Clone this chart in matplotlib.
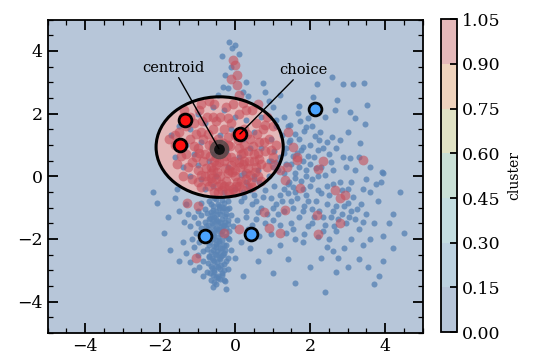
import numpy as np
import matplotlib
matplotlib.use("Agg")
import matplotlib.pyplot as plt
from matplotlib.patches import Ellipse
from matplotlib.colors import ListedColormap, Normalize
from matplotlib.cm import ScalarMappable
from matplotlib.ticker import MultipleLocator

# cluster 0 points (blue), (x, y)
blue_column = [
    (-0.55, -0.7), (-0.35, -0.75), (-0.2, -0.8), (-0.7, -0.8), (-0.9, -0.85), (-0.45, -0.9),
    (-0.6, -0.95), (-0.3, -1.0), (-0.15, -1.0), (-0.8, -1.05), (-1.0, -1.1), (-0.5, -1.1),
    (-0.65, -1.15), (-0.4, -1.2), (-0.25, -1.2), (-0.9, -1.25), (-1.1, -1.3), (-0.55, -1.3),
    (-0.7, -1.35), (-0.35, -1.35), (-0.2, -1.4), (-0.8, -1.45), (-1.0, -1.5), (-0.45, -1.5),
    (-0.6, -1.55), (-0.3, -1.55), (-1.2, -1.6), (-0.9, -1.65), (-0.5, -1.65), (-0.7, -1.7),
    (-0.35, -1.75), (-0.15, -1.75), (-1.05, -1.8), (-0.55, -1.8), (-0.25, -1.9), (-0.45, -1.95),
    (-1.15, -2.0), (-0.6, -2.0), (-0.35, -2.05), (-0.95, -2.1), (-0.5, -2.15), (-0.7, -2.2),
    (-0.25, -2.2), (-1.1, -2.25), (-0.4, -2.3), (-0.6, -2.35), (-0.85, -2.4), (-0.3, -2.45),
    (-0.5, -2.5), (-1.0, -2.5), (-0.7, -2.55), (-0.2, -2.6), (-0.4, -2.65), (-0.85, -2.7),
    (-0.55, -2.7), (-1.2, -2.75), (-0.3, -2.8), (-0.65, -2.85), (-0.45, -2.9), (-0.95, -2.9),
    (-0.2, -2.95), (-0.55, -3.0), (-0.75, -3.05), (-0.35, -3.1), (-0.6, -3.15), (-0.45, -3.25),
    (-0.3, -3.3), (-0.5, -3.45), (-1.3, -0.9), (-1.25, -1.2), (-1.35, -1.45), (-0.1, -1.25),
    (-0.05, -1.6), (-0.1, -2.35), (-0.15, -2.0), (-1.3, -2.45), (-1.4, -2.1), (-1.5, -2.7),
    (-1.1, -3.0), (-0.85, -3.2), (-0.6, -3.55), (-0.25, -3.6), (-0.42, -1.02), (-0.62, -1.25),
    (-0.48, -1.42), (-0.38, -1.62), (-0.58, -1.88), (-0.42, -2.12), (-0.62, -2.62), (-0.38, -2.55),
    (-0.52, -2.85), (-0.78, -1.95), (-0.28, -1.47), (-0.72, -1.55),
    (-0.5, -0.72), (-0.3, -0.85), (-0.65, -0.88), (-0.42, -0.95), (-0.22, -1.05), (-0.58, -1.08),
    (-0.75, -1.18), (-0.35, -1.12), (-0.48, -1.22), (-0.28, -1.28), (-0.68, -1.32), (-0.52, -1.38),
    (-0.18, -1.52), (-0.4, -1.45), (-0.62, -1.48), (-0.33, -1.58), (-0.78, -1.6), (-0.45, -1.68),
    (-0.55, -1.72), (-0.25, -1.65), (-0.7, -1.82), (-0.38, -1.85), (-0.6, -1.92), (-0.2, -1.98),
    (-0.5, -2.02), (-0.43, -2.08), (-0.66, -2.1), (-0.3, -2.18), (-0.57, -2.22), (-0.36, -2.28),
    (-0.74, -2.32), (-0.47, -2.38), (-0.26, -2.35), (-0.64, -2.42), (-0.4, -2.45), (-0.53, -2.48),
    (-0.31, -2.52), (-0.69, -2.58), (-0.44, -2.6), (-0.58, -2.68), (-0.23, -2.72), (-0.49, -2.75),
    (-0.72, -2.78), (-0.37, -2.82), (-0.61, -2.92), (-0.41, -2.95), (-0.29, -2.98), (-0.56, -3.05),
    (-0.67, -3.1), (-0.34, -3.15), (-0.46, -3.18), (-0.52, -3.22), (-0.39, -3.28), (-0.63, -3.32),
    (-0.27, -3.35), (-0.55, -3.38), (-0.44, -1.75), (-0.35, -0.98), (-0.6, -1.4), (-0.5, -2.25),
]
blue_right = [
    (0.2, -0.5), (0.35, -0.3), (0.5, -0.6), (0.65, -0.2), (0.8, -0.45), (0.95, -0.7), (0.45, -0.9),
    (0.7, -1.0), (0.3, -1.1), (0.15, -0.8), (1.05, -0.3), (1.2, -0.6), (1.1, -0.9), (0.9, 0.0),
    (1.3, 0.1), (1.0, 0.3), (1.45, -0.2), (1.6, -0.5), (1.5, -0.8), (1.75, -0.15), (1.9, -0.6),
    (2.0, -0.3), (1.85, -0.95), (2.15, -0.8), (2.3, -0.55), (2.45, -0.9), (2.25, -1.1), (2.55, -1.3),
    (2.4, -1.55), (2.7, -0.95), (2.85, -1.2), (3.0, -0.85), (3.1, -1.1), (2.95, -1.5), (3.2, -1.35),
    (3.35, -0.9), (3.5, -1.2), (3.3, -1.7), (2.7, -1.75), (2.5, -2.0), (2.2, -1.95), (1.95, -1.6),
    (1.7, -1.3), (1.5, -1.5), (1.35, -1.8), (1.6, -2.0), (1.0, -1.4), (0.8, -1.5), (0.55, -1.35),
    (1.2, -2.2), (0.9, -2.4), (0.6, -2.7), (0.4, -2.3), (0.15, -2.1), (0.05, -1.4), (0.65, -1.9),
    (2.9, -2.3), (3.1, -2.0), (2.6, -2.4), (2.3, -2.6), (3.6, -0.5), (3.8, -0.8), (3.4, -0.4),
    (3.7, -1.5), (3.95, -1.9), (4.2, -1.2), (4.4, -0.5), (4.5, -1.8), (4.2, -2.3), (3.6, -2.0),
    (3.4, -2.2), (3.3, -2.65), (3.95, -2.7), (3.85, -3.2), (3.7, -3.45), (3.0, -2.9), (2.7, -3.05),
    (2.75, -2.6), (2.45, -2.25), (2.0, -2.9), (1.4, -2.65), (1.8, -2.1), (1.0, -3.1), (0.2, -3.2),
    (1.6, -3.4), (2.4, -3.7), (3.9, -0.2), (3.95, 0.1), (2.6, 0.2), (2.8, -0.2), (2.2, 0.0),
    (2.45, -0.3), (1.7, 0.3), (2.0, 0.4), (0.5, 0.0), (0.25, 0.1), (3.2, 0.2), (3.0, -0.4),
    (2.1, -1.3), (1.3, -1.1), (0.35, -1.7), (0.0, -2.6), (4.1, -1.5), (3.55, -2.9),
    (1.2, 0.6), (1.35, 0.9), (1.5, 0.4), (1.6, 0.1), (1.8, 0.5), (1.9, 0.2), (2.1, 0.6),
    (2.3, 0.3), (1.45, 1.1), (1.7, 1.2), (1.3, -0.4), (1.55, -0.35), (1.8, -0.4), (2.05, -0.1),
    (1.15, 0.2), (0.95, 0.5), (1.05, 0.8), (1.25, 1.3),
    (0.25, -0.65), (0.4, -0.45), (0.55, -0.8), (0.75, -0.65), (0.6, -1.15), (0.85, -1.2),
    (1.0, -1.0), (1.15, -1.2), (1.25, -0.8), (1.4, -0.55), (1.55, -1.0), (1.65, -0.7),
    (1.8, -1.1), (1.95, -0.8), (2.05, -1.05), (2.2, -0.45), (2.35, -1.3), (2.5, -0.6),
    (2.6, -1.1), (2.75, -1.35), (2.9, -0.95), (3.05, -1.3), (3.15, -0.65), (3.25, -1.05),
    (3.4, -1.45), (2.65, -1.6), (2.35, -1.75), (2.05, -1.5), (1.85, -1.85), (1.55, -1.7),
    (1.2, -1.55), (0.95, -1.85), (0.45, -1.55), (0.3, -1.3), (1.4, -0.25), (1.6, -0.05),
    (1.9, 0.0), (2.15, 0.25), (2.4, 0.05), (2.6, -0.25), (2.85, -0.45), (3.1, -0.2),
    (2.95, 0.3), (1.35, 0.4), (1.55, 0.65), (1.75, 0.85), (1.95, 0.65), (2.2, 0.85),
    (2.45, 1.1), (1.6, 1.35), (1.85, 1.45), (2.05, 1.6), (1.3, 0.75), (1.1, 0.45),
    (1.4, 1.6), (2.25, 1.15), (2.55, 0.45), (3.3, 0.6), (3.6, 0.3), (3.5, -0.1),
]
blue_upper = [
    (0.75, 2.98), (2.19, 2.95), (2.59, 3.17), (2.89, 2.95), (3.15, 2.95), (3.44, 2.98),
    (2.09, 2.53), (2.72, 2.44), (3.52, 2.28), (2.67, 2.12), (3.07, 2.05), (3.2, 1.86),
    (2.4, 1.89), (1.71, 2.24), (1.68, 2.02), (1.95, 1.86), (1.73, 1.77), (1.47, 1.64),
    (1.89, 1.58), (3.47, 1.67), (2.27, 1.42), (2.59, 1.26), (2.8, 1.16), (3.33, 1.07),
    (2.13, 1.29), (2.0, 1.0), (1.81, 0.94), (1.47, 1.16), (1.65, 0.75), (2.35, 0.9),
    (2.88, 0.62), (3.07, 0.59), (3.92, 0.14), (3.76, -0.24), (1.2, 2.6), (1.0, 2.2),
    (1.3, 1.9), (1.1, 1.6), (2.5, 0.7), (2.7, 0.9), (3.0, 1.4), (0.3, 3.0), (0.9, 2.4),
    (1.1, 1.8), (0.8, 2.7),
    # above the ellipse
    (0.0, 4.2), (-0.35, 3.84), (-0.08, 4.09), (-0.27, 3.23), (-0.32, 2.85), (-0.19, 2.82),
    (0.1, 3.9), (-0.1, 3.5), (0.2, 2.7), (-0.45, 2.6), (0.35, 2.55), (-0.15, 4.3),
    # left of the column
    (-2.08, -0.85), (-1.73, -2.34), (-1.6, -0.7), (-1.5, -1.1), (-1.8, -1.3), (-2.2, -0.5),
    (-1.9, -1.8), (-1.55, -0.4),
]
blue_inside = [
    (-1.7, 1.3), (-1.6, 0.6), (-1.4, 0.3), (-1.2, 1.5), (-1.0, 2.0), (-0.8, 1.7), (-0.6, 2.2),
    (-0.3, 2.1), (0.0, 1.9), (0.3, 1.8), (0.5, 1.4), (0.7, 0.9), (0.9, 0.5), (0.6, 0.2),
    (0.3, -0.2), (0.0, -0.4), (-0.3, -0.5), (-0.6, -0.3), (-0.9, -0.1), (-1.2, 0.0), (-1.1, 0.7),
    (-0.9, 1.1), (-0.7, 0.5), (-0.5, 0.0), (-0.2, 0.3), (0.1, 0.6), (0.4, 0.9), (0.2, 1.2),
    (-0.1, 1.5), (-0.4, 1.3), (-1.3, 1.0), (-1.5, 1.6), (0.7, 1.9), (0.95, 1.2), (-0.8, -0.4),
    (0.5, -0.1), (-1.0, 0.35), (-0.25, 0.8), (0.15, 0.05), (-0.55, 0.7),
]

# cluster 1 points (red), (x, y)
red_inside = [
    (-1.6, 1.0), (-1.5, 1.4), (-1.4, 1.9), (-1.3, 0.7), (-1.2, 1.2), (-1.1, 1.7), (-1.0, 0.9),
    (-1.0, 0.2), (-0.95, 2.1), (-0.9, 1.4), (-0.85, 0.5), (-0.8, 0.0), (-0.75, 1.9), (-0.7, 1.0),
    (-0.7, -0.3), (-0.65, 0.3), (-0.6, 1.5), (-0.55, 2.3), (-0.5, 0.6), (-0.5, -0.1), (-0.45, 1.2),
    (-0.4, 1.9), (-0.4, 0.0), (-0.35, -0.45), (-0.3, 0.5), (-0.3, 1.5), (-0.25, 2.2), (-0.2, 0.1),
    (-0.2, 1.0), (-0.15, -0.3), (-0.1, 0.6), (-0.1, 1.7), (0.0, 0.2), (0.0, 1.3), (0.05, -0.2),
    (0.1, 0.9), (0.1, 2.0), (0.2, 0.4), (0.25, 1.5), (0.3, -0.1), (0.35, 0.8), (0.4, 1.2),
    (0.45, 2.1), (0.5, 0.5), (0.55, 1.7), (0.6, 0.0), (0.65, 1.1), (0.7, 0.4), (0.75, 1.5),
    (0.8, 0.8), (0.85, 1.9), (0.9, 1.2), (1.0, 0.6), (1.1, 1.0), (-1.55, 0.4), (-1.75, 1.2),
    (-1.25, 0.3), (-1.15, -0.1), (-0.9, -0.35), (-0.55, -0.5), (-0.15, -0.55), (0.2, -0.45),
    (0.45, -0.35), (-1.35, 2.1), (-0.7, 2.4), (0.2, 2.35), (0.6, 2.3), (-0.6, 0.9), (-0.35, 0.75),
    (-0.1, 0.35), (0.15, 0.7), (-0.8, 0.7), (-0.5, 0.35), (-0.25, -0.15), (0.0, 0.0),
    (-0.65, -0.05), (0.35, 0.25), (-0.45, -0.3), (-0.05, -0.4), (0.55, 0.3), (-1.05, 0.6),
    (-0.2, 1.25), (0.25, 1.0), (-0.85, 1.2), (0.6, 0.75), (-0.3, -0.3), (0.1, -0.3), (-0.6, 0.2),
    (0.4, 0.05), (-1.4, 0.0), (1.2, 0.2), (1.0, 1.6), (-0.9, 2.3), (-0.05, 2.3),
    (-1.3, 1.6), (-1.15, 0.45), (-1.05, 1.35), (-0.95, 0.75), (-0.88, 1.75), (-0.78, 0.25),
    (-0.72, 1.35), (-0.68, 0.65), (-0.62, -0.2), (-0.58, 1.1), (-0.52, 1.75), (-0.48, 0.15),
    (-0.42, 0.45), (-0.38, -0.25), (-0.33, 1.05), (-0.28, 0.25), (-0.23, 0.65), (-0.18, -0.45),
    (-0.13, 0.95), (-0.08, 0.15), (-0.03, 0.5), (0.02, -0.3), (0.07, 1.15), (0.12, 0.3),
    (0.17, -0.15), (0.22, 0.75), (0.28, 0.1), (0.33, 1.35), (0.38, 0.5), (0.43, -0.2),
    (0.48, 0.95), (0.53, 0.15), (0.58, 1.35), (0.63, 0.55), (0.7, -0.15), (0.78, 1.1),
    (0.85, 0.3), (0.95, 0.85), (1.05, 0.35), (-0.9, 0.05), (-1.1, 0.95), (-1.45, 0.65),
    (-1.6, 1.3), (-1.2, 1.9), (-0.6, 1.9), (-0.2, 1.85), (0.3, 2.1), (0.8, 1.65),
    (-0.75, -0.15), (-0.45, -0.5), (0.0, -0.5), (0.35, -0.35), (-1.0, -0.2), (-0.3, 0.9),
    (-0.55, 0.5), (0.1, 0.45), (-0.15, 0.2), (0.25, 0.5), (-0.65, 0.1), (0.5, 0.7),
]
red_outside = [
    (0.0, 3.55), (0.05, 3.23), (0.05, 2.9), (-0.05, 3.7), (0.1, 2.6), (-0.1, 3.1),
    (-1.28, -0.85), (-0.99, -0.94), (0.77, -1.13), (0.11, -1.67), (0.91, -1.64), (1.2, -1.8),
    (-1.04, -2.6), (1.41, 1.42), (1.55, 0.94), (1.65, 0.52), (2.35, 0.49), (2.21, 0.24),
    (3.41, 0.52), (1.39, 0.3), (1.33, -0.11), (1.73, -0.37), (2.67, -0.43), (2.93, -0.6),
    (2.8, -0.68), (1.33, -1.07), (2.19, -1.23), (2.8, -1.48), (2.21, -1.86), (1.65, 0.6),
    (-0.3, -1.8),
]

# chosen samples
choice_red = [(-1.33, 1.80), (-1.47, 1.00), (0.13, 1.35)]
choice_blue = [(2.13, 2.15), (-0.80, -1.90), (0.43, -1.83)]

centroid = (-0.43, 0.88)
ellipse_center = (-0.41, 0.93)
ellipse_w, ellipse_h = 3.39, 3.21

levels = [0.0, 0.15, 0.30, 0.45, 0.60, 0.75, 0.90, 1.05]
band_colors = ['#b7c6d9', '#bcd2e0', '#c3dde0', '#c9e0d6', '#e0e2c4', '#efd3bd', '#e4b8b9']

plt.rcParams['font.family'] = 'DejaVu Serif'
plt.rcParams['mathtext.fontset'] = 'dejavuserif'

fig = plt.figure(figsize=(5.35, 3.56), dpi=100)
ax = fig.add_axes([0.0888, 0.065, 0.701, 0.88])
cax = fig.add_axes([0.824, 0.067, 0.030, 0.879])

ax.set_facecolor(band_colors[0])
ax.add_patch(Ellipse(ellipse_center, ellipse_w, ellipse_h, facecolor=band_colors[-1],
                     edgecolor='none', zorder=0.5))

bx, by = zip(*(blue_column + blue_right + blue_upper + blue_inside))
rx, ry = zip(*(red_inside + red_outside))
ax.scatter(bx, by, s=19, color='#5a84b5', alpha=0.8, linewidths=0, zorder=2)
ax.scatter(rx, ry, s=50, color='#c74f5a', alpha=0.6, linewidths=0, zorder=2.1)

ax.add_patch(Ellipse(ellipse_center, ellipse_w, ellipse_h, facecolor='none',
                     edgecolor='black', linewidth=2.2, zorder=3))

cx, cy = zip(*choice_red)
ax.scatter(cx, cy, s=85, color='#ff1010', edgecolors='black', linewidths=2, zorder=4)
cx, cy = zip(*choice_blue)
ax.scatter(cx, cy, s=85, color='#4aa3ff', edgecolors='black', linewidths=2, zorder=4)

ax.scatter([centroid[0]], [centroid[1]], s=200, color='#444444', alpha=0.75,
           linewidths=0, zorder=4)
ax.scatter([centroid[0]], [centroid[1]], s=60, color='#111111', linewidths=0, zorder=4.1)

ax.annotate('centroid', xy=centroid, xytext=(-1.65, 3.46), ha='center', va='center',
            fontsize=10.5, arrowprops=dict(arrowstyle='-', color='black', lw=1,
                                           shrinkA=0, shrinkB=0), zorder=5)
ax.annotate('choice', xy=choice_red[2], xytext=(1.81, 3.39), ha='center', va='center',
            fontsize=10.5, arrowprops=dict(arrowstyle='-', color='black', lw=1,
                                           shrinkA=0, shrinkB=0), zorder=5)

ax.set_xlim(-5, 5)
ax.set_ylim(-5, 5)
ax.xaxis.set_major_locator(MultipleLocator(2))
ax.yaxis.set_major_locator(MultipleLocator(2))
ax.xaxis.set_minor_locator(MultipleLocator(0.5))
ax.yaxis.set_minor_locator(MultipleLocator(0.5))
ax.tick_params(which='both', direction='in', top=True, right=True, labelsize=12.5)
ax.tick_params(which='major', length=7, width=1.3)
ax.tick_params(which='minor', length=3.5, width=0.9)
for sp in ax.spines.values():
    sp.set_linewidth(1.3)

# colorbar with one band per level interval
cmap = ListedColormap(band_colors)
mids = [(a + b) / 2 for a, b in zip(levels[:-1], levels[1:])]
sm = ScalarMappable(norm=Normalize(levels[0], levels[-1]), cmap=cmap)
cb = fig.colorbar(sm, cax=cax, boundaries=levels, values=mids, ticks=levels)
cb.ax.set_yticklabels([f'{v:.2f}' for v in levels])
cb.ax.tick_params(direction='in', length=5, width=1.3, labelsize=12.5)
cb.ax.minorticks_off()
cb.outline.set_linewidth(1.3)
cb.set_label('cluster', fontsize=10, labelpad=5)

fig.savefig('out.png', dpi=100)
